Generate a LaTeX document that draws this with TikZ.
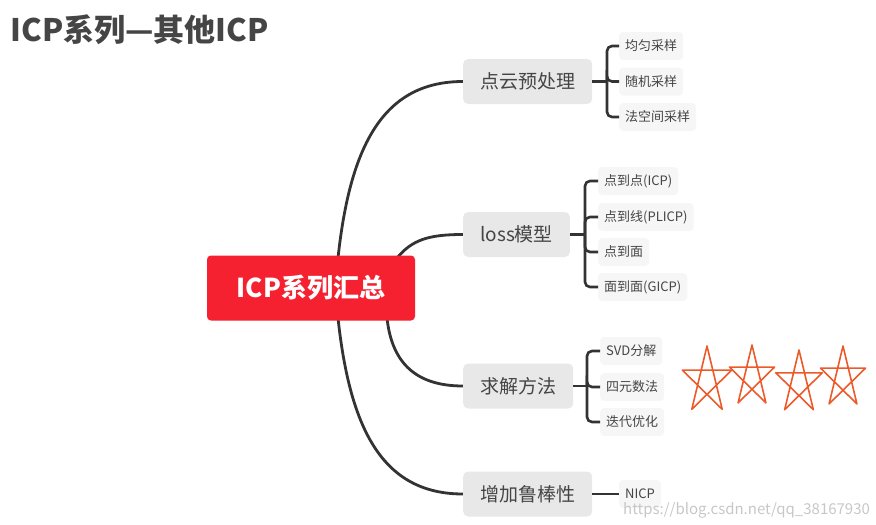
\documentclass[tikz,border=0pt]{standalone}
\usepackage{fontspec}
\usepackage{xcolor}
\setmainfont{Noto Sans CJK SC}
\definecolor{mapred}{HTML}{F52130}
\definecolor{inkgray}{HTML}{333333}
\definecolor{textgray}{HTML}{454545}
\definecolor{topicfill}{HTML}{E8E8E8}
\definecolor{leaffill}{HTML}{F6F6F6}
\definecolor{starred}{HTML}{EC5A2A}

\begin{document}
\begin{tikzpicture}[
    x=1pt, y=-1pt,
    root/.style={fill=mapred, rounded corners=4pt, minimum width=208pt,
                 minimum height=65pt, text=white,
                 font=\fontsize{26}{30}\selectfont\bfseries},
    topic/.style={fill=topicfill, rounded corners=5pt, anchor=west,
                  minimum height=45pt, inner xsep=17pt, text=textgray,
                  font=\fontsize{19}{22}\selectfont},
    leaf/.style={fill=leaffill, rounded corners=4pt, anchor=west,
                 minimum height=28pt, inner xsep=6pt, text=textgray,
                 font=\fontsize{13}{15}\selectfont},
    branch/.style={draw=inkgray, line width=2.8pt},
    twig/.style={draw=inkgray, line width=2.6pt, rounded corners=5pt},
    scribble/.style={draw=starred, line width=1.6pt, line join=round, line cap=round},
]
    \useasboundingbox (0,0) rectangle (876,525);

    \node[anchor=west, text=textgray, font=\fontsize{31}{34}\selectfont\bfseries]
        (title) at (7,30) {ICP系列—其他ICP};

    \draw[branch] (338,258) .. controls +(12,-112) and +(-80,0) .. (463,81.5);
    \draw[branch] (397,258) .. controls +(15,-18) and +(-35,0) .. (463,234.5);
    \draw[branch] (387,318) .. controls +(5,47) and +(-45,0) .. (463,386);
    \draw[branch] (338,318) .. controls +(12,112) and +(-80,0) .. (463,494);

    \node[root] (icp) at (311,288) {ICP系列汇总};

    \node[topic] (pre)    at (463,81.5)  {点云预处理};
    \node[topic] (loss)   at (463,234.5) {loss模型};
    \node[topic] (solve)  at (463,386)   {求解方法};
    \node[topic] (robust) at (463,494)   {增加鲁棒性};

    \node[leaf] (uni)   at (619,46)  {均匀采样};
    \node[leaf] (rand)  at (619,81.5) {随机采样};
    \node[leaf] (nspace) at (619,117) {法空间采样};

    \node[leaf] (p2p)  at (598,181) {点到点(ICP)};
    \node[leaf] (p2l)  at (598,217) {点到线(PLICP)};
    \node[leaf] (p2pl) at (598,252) {点到面};
    \node[leaf] (pl2pl) at (598,287) {面到面(GICP)};

    \node[leaf] (svd)  at (600,351) {SVD分解};
    \node[leaf] (quat) at (600,387) {四元数法};
    \node[leaf] (iter) at (600,422) {迭代优化};

    \node[leaf] (nicp) at (619,494) {NICP};

    \coordinate (preS)   at (607,81.5);
    \coordinate (lossS)  at (585,234.5);
    \coordinate (solveS) at (587,386);

    \draw[twig] (pre) -- (preS);
    \foreach \n in {uni, rand, nspace}
        \draw[twig] (preS) |- (\n.west);
    \draw[twig] (loss) -- (lossS);
    \foreach \n in {p2p, p2l, p2pl, pl2pl}
        \draw[twig] (lossS) |- (\n.west);
    \draw[twig] (solve) -- (solveS);
    \foreach \n in {svd, quat, iter}
        \draw[twig] (solveS) |- (\n.west);
    \draw[twig] (robust) -- (nicp);

    \foreach \cx/\cy/\r in {707/381/35, 752/377/32, 799/383/33, 843/378/32}
        \draw[scribble, shift={(\cx,\cy)}, xscale=0.74]
            (-90:\r) -- (-234:\r) -- (-18:\r) -- (-162:\r) -- (-306:\r) -- cycle;

    \node[anchor=west, inner sep=0pt, text=black!22, font=\fontsize{15}{17}\selectfont]
        (mark) at (623,510) {https://blog.csdn.net/qq\_38167930};
\end{tikzpicture}
\end{document}
